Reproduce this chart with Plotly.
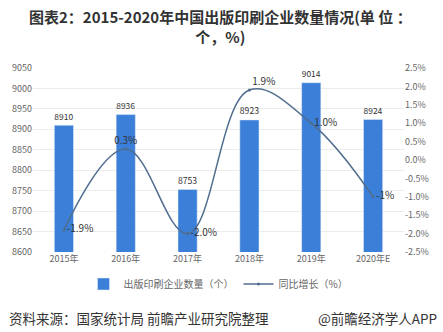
import plotly.graph_objects as go

years = ["2015年", "2016年", "2017年", "2018年", "2019年", "2020年E"]
counts = [8910, 8936, 8753, 8923, 9014, 8924]
growth = [-1.9, 0.3, -2.0, 1.9, 1.0, -1.0]
growth_labels = ["-1.9%", "0.3%", "-2.0%", "1.9%", "1.0%", "-1%"]
growth_pos = ["middle right", "top center", "middle right", "top right", "middle right", "middle right"]
left_ticks = [8600, 8650, 8700, 8750, 8800, 8850, 8900, 8950, 9000, 9050]
right_ticks = [-2.5, -2.0, -1.5, -1.0, -0.5, 0.0, 0.5, 1.0, 1.5, 2.0, 2.5]
right_ticktext = ["-2.5%", "-2.0%", "-1.5%", "-1.0%", "-0.5%", "0.0%", "0.5%", "1.0%", "1.5%", "2.0%", "2.5%"]

FONT = "Noto Sans CJK SC"
L, R, T, B = 33, 39, 68, 80
PW, PH = 443 - L - R, 332 - T - B

def px_x(x):
    return (x - L) / PW

def px_y(y):
    return (332 - B - y) / PH

fig = go.Figure()
fig.add_trace(go.Bar(
    x=years, y=counts, name="出版印刷企业数量（个）",
    marker_color="#3b7fd9", text=[str(c) for c in counts],
    textposition="outside", textfont=dict(size=10, color="#333333"),
    cliponaxis=False,
))
fig.add_trace(go.Scatter(
    x=years, y=growth, name="同比增长（%）", yaxis="y2",
    mode="lines+markers+text", line=dict(color="#4f6d8f", width=1.5, shape="spline", smoothing=1.1),
    marker=dict(size=3, color="#4f6d8f"),
    text=growth_labels, textposition=growth_pos,
    textfont=dict(size=10, color="#333333"), cliponaxis=False,
))
fig.update_layout(
    width=443, height=332,
    margin=dict(l=L, r=R, t=T, b=B),
    paper_bgcolor="white", plot_bgcolor="white",
    font=dict(family=FONT, color="#666666", size=9),
    bargap=0.69,
    showlegend=True,
    legend=dict(orientation="h", x=0.5, xanchor="center", y=px_y(284), yanchor="middle",
                font=dict(size=10, color="#666666"), itemwidth=30, tracegroupgap=0),
    xaxis=dict(type="category", showgrid=False, tickfont=dict(size=9, color="#666666"),
               showline=False, ticks=""),
    yaxis=dict(range=[8600, 9050], tickvals=left_ticks, showgrid=True, gridcolor="#ececec",
               zeroline=False, tickfont=dict(size=9, color="#666666")),
    yaxis2=dict(range=[-2.5, 2.5], overlaying="y", side="right", tickvals=right_ticks,
                ticktext=right_ticktext, showgrid=False, zeroline=False,
                tickfont=dict(size=9, color="#666666")),
    annotations=[
        dict(text="<b>图表2：2015-2020年中国出版印刷企业数量情况(单 位 ：<br>个，%)</b>",
             x=px_x(221), y=px_y(26), xanchor="center", yanchor="middle", align="center",
             xref="paper", yref="paper", showarrow=False,
             font=dict(size=15, color="#333333", family=FONT)),
        dict(text="资料来源：国家统计局 前瞻产业研究院整理", x=px_x(7), y=px_y(318),
             xref="paper", yref="paper", xanchor="left", yanchor="middle", showarrow=False,
             font=dict(size=13.5, color="#333333", family=FONT)),
        dict(text="@前瞻经济学人APP", x=px_x(439), y=px_y(318), xref="paper", yref="paper",
             xanchor="right", yanchor="middle", showarrow=False,
             font=dict(size=13.5, color="#333333", family=FONT)),
    ],
)
fig.write_html("out.html")
